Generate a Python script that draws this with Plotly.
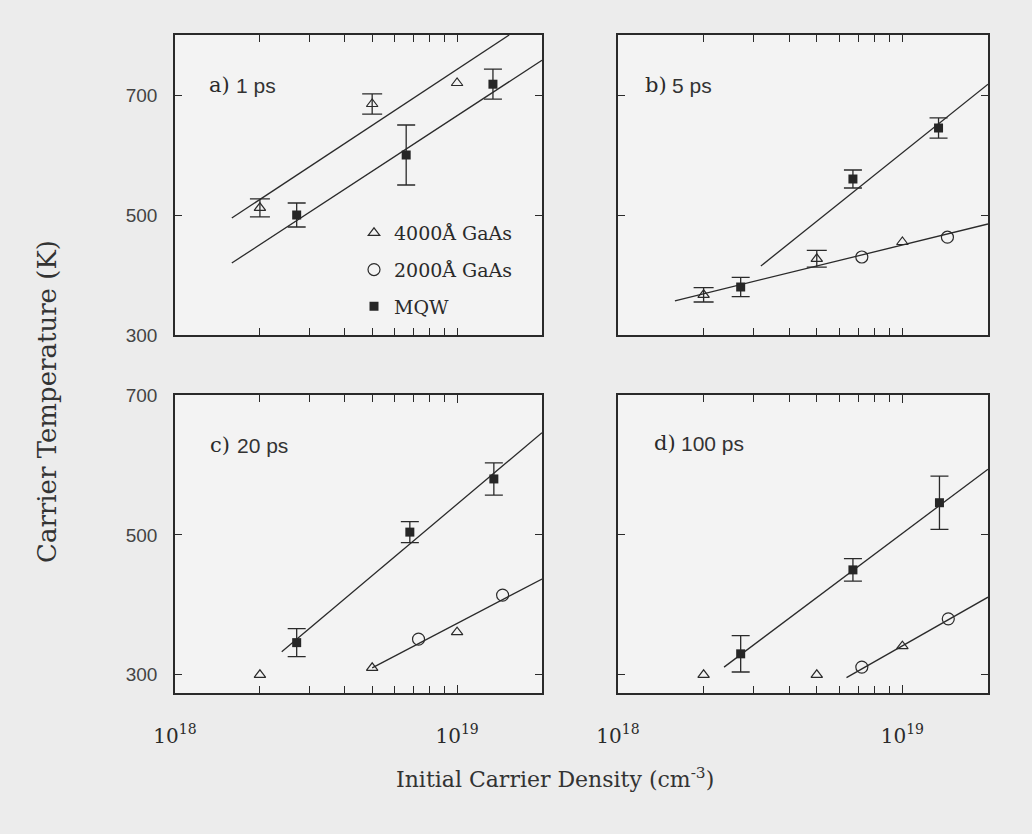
import plotly.graph_objects as go

W, H = 1032, 834

# ---------------- data ----------------
panels = ["a", "b", "c", "d"]
panel_time = ["1 ps", "5 ps", "20 ps", "100 ps"]

# 4000 A GaAs (triangles)
tri_x = {
    "a": [2e18, 5e18, 1e19],
    "b": [2e18, 5e18, 1e19],
    "c": [2e18, 5e18, 1e19],
    "d": [2e18, 5e18, 1e19],
}
tri_y = {
    "a": [512, 685, 720],
    "b": [367, 427, 455],
    "c": [300, 310, 361],
    "d": [300, 300, 341],
}
tri_err = {
    "a": [15, 17, 0],
    "b": [12, 14, 0],
    "c": [0, 0, 0],
    "d": [0, 0, 0],
}

# 2000 A GaAs (circles)
circ_x = {
    "a": [],
    "b": [7.2e18, 1.44e19],
    "c": [7.3e18, 1.45e19],
    "d": [7.2e18, 1.45e19],
}
circ_y = {
    "a": [],
    "b": [430, 463],
    "c": [351, 414],
    "d": [311, 380],
}

# MQW (filled squares)
mqw_x = {
    "a": [2.7e18, 6.6e18, 1.34e19],
    "b": [2.7e18, 6.7e18, 1.34e19],
    "c": [2.7e18, 6.8e18, 1.35e19],
    "d": [2.7e18, 6.7e18, 1.35e19],
}
mqw_y = {
    "a": [500, 600, 718],
    "b": [380, 560, 645],
    "c": [346, 504, 580],
    "d": [330, 450, 546],
}
mqw_err = {
    "a": [20, 50, 25],
    "b": [16, 15, 17],
    "c": [20, 15, 23],
    "d": [26, 16, 38],
}

# fitted lines (end points)
fit_lines = {
    "a": [([1.59e18, 1.53e19], [495, 800]), ([1.59e18, 2e19], [420, 758])],
    "b": [([1.585e18, 2e19], [357, 485]), ([3.18e18, 2e19], [415, 718])],
    "c": [([2.39e18, 2e19], [333, 646]), ([5e18, 2e19], [310, 437])],
    "d": [([2.36e18, 2e19], [311, 594]), ([6.36e18, 2e19], [296, 411])],
}

x_major_vals = [1e18, 1e19]
x_major_text = ["10<sup>18</sup>", "10<sup>19</sup>"]
x_minor_vals = [2e18, 3e18, 4e18, 5e18, 6e18, 7e18, 8e18, 9e18, 2e19]
y_tickvals = [300, 500, 700]
y_ticktext = ["300", "500", "700"]
y_range_top = [300, 800]
y_range_bottom = [274, 700]

legend_names = ["4000Å GaAs", "2000Å GaAs", "MQW"]

# ---------------- style ----------------
INK = "#2a2a2a"
SERIF = "DejaVu Serif"
SANS = "Liberation Sans"

def px_x(p):
    return p / W

def px_y(p):
    return 1 - p / H

# panel boxes (pixels): left, right, top, bottom
boxes = {
    "a": (175, 542, 35, 335),
    "b": (618, 988, 35, 335),
    "c": (175, 542, 395, 693),
    "d": (618, 988, 395, 693),
}

fig = go.Figure()
axis_ids = {"a": ("x", "y"), "b": ("x2", "y2"), "c": ("x3", "y3"), "d": ("x4", "y4")}

for i, p in enumerate(panels):
    xa, ya = axis_ids[p]
    for lx, ly in fit_lines[p]:
        fig.add_trace(go.Scatter(x=lx, y=ly, mode="lines", xaxis=xa, yaxis=ya,
                                 line=dict(color=INK, width=1.3), showlegend=False,
                                 hoverinfo="skip"))
    for xs, ys, es, w in ((tri_x[p], tri_y[p], tri_err[p], 10), (mqw_x[p], mqw_y[p], mqw_err[p], 9)):
        ex = [x for x, e in zip(xs, es) if e > 0]
        ey = [y for y, e in zip(ys, es) if e > 0]
        ee = [e for e in es if e > 0]
        if ex:
            fig.add_trace(go.Scatter(x=ex, y=ey, mode="markers", xaxis=xa, yaxis=ya,
                                     marker=dict(size=2, color="rgba(0,0,0,0)"),
                                     error_y=dict(type="data", array=ee, visible=True,
                                                  color=INK, thickness=1.3, width=w),
                                     showlegend=False, hoverinfo="skip"))
    show = (p == "b")
    fig.add_trace(go.Scatter(x=tri_x[p], y=tri_y[p], mode="markers", xaxis=xa, yaxis=ya,
                             name=legend_names[0], legendgroup="g1", showlegend=show,
                             marker=dict(symbol="triangle-up-open", size=10,
                                         color=INK, line=dict(width=1.2, color=INK))))
    if circ_x[p]:
        fig.add_trace(go.Scatter(x=circ_x[p], y=circ_y[p], mode="markers", xaxis=xa, yaxis=ya,
                                 name=legend_names[1], legendgroup="g2", showlegend=show,
                                 marker=dict(symbol="circle-open", size=12,
                                             color=INK, line=dict(width=1.2, color=INK))))
    fig.add_trace(go.Scatter(x=mqw_x[p], y=mqw_y[p], mode="markers", xaxis=xa, yaxis=ya,
                             name=legend_names[2], legendgroup="g3", showlegend=show,
                             marker=dict(symbol="square", size=9, color="#262626",
                                         line=dict(width=0))))

layout = dict(
    width=W, height=H,
    margin=dict(l=0, r=0, t=0, b=0, autoexpand=False),
    paper_bgcolor="#ececec",
    plot_bgcolor="#f3f3f3",
    showlegend=True,
    legend=dict(x=px_x(354), y=px_y(214), xanchor="left", yanchor="top",
                bgcolor="rgba(0,0,0,0)", font=dict(family=SERIF, size=19, color=INK),
                traceorder="grouped", tracegroupgap=9, itemwidth=30),
)

for p in panels:
    xa, ya = axis_ids[p]
    l, r, t, b = boxes[p]
    xkey = "xaxis" if xa == "x" else "xaxis" + xa[1:]
    ykey = "yaxis" if ya == "y" else "yaxis" + ya[1:]
    bottom_row = p in ("c", "d")
    left_col = p in ("a", "c")
    if bottom_row:
        xmaj, xmajt, xmin = x_major_vals, x_major_text, x_minor_vals
    else:
        xmaj, xmajt, xmin = [], [], x_major_vals + x_minor_vals
    if left_col:
        ymaj, ymajt, ymin = y_tickvals, y_ticktext, []
    else:
        ymaj, ymajt, ymin = [], [], y_tickvals
    layout[xkey] = dict(
        type="log", range=[18, 19.30103], domain=[px_x(l), px_x(r)],
        anchor=ya, showgrid=False, zeroline=False, automargin=False,
        showline=True, linecolor=INK, linewidth=1.5, mirror="allticks",
        ticks="inside", ticklen=8, tickwidth=1.2, tickcolor=INK,
        tickmode="array", tickvals=xmaj, ticktext=xmajt,
        minor=dict(tickmode="array", tickvals=xmin, ticks="inside",
                   ticklen=7, tickwidth=1.2, tickcolor=INK, showgrid=False),
        showticklabels=bottom_row, ticklabelstandoff=24,
        tickfont=dict(family=SERIF, size=20, color=INK),
    )
    layout[ykey] = dict(
        range=y_range_bottom if bottom_row else y_range_top,
        domain=[px_y(b), px_y(t)], anchor=xa,
        showgrid=False, zeroline=False, automargin=False,
        showline=True, linecolor=INK, linewidth=1.5, mirror="allticks",
        ticks="inside", ticklen=7, tickwidth=1.2, tickcolor=INK,
        tickmode="array", tickvals=ymaj, ticktext=ymajt,
        minor=dict(tickmode="array", tickvals=ymin, ticks="inside",
                   ticklen=7, tickwidth=1.2, tickcolor=INK, showgrid=False),
        showticklabels=left_col, ticklabelstandoff=12,
        tickfont=dict(family=SANS, size=19, color="#444"),
    )

fig.update_layout(**layout)

# panel labels
label_pos = {"a": (207, 85), "b": (643, 85), "c": (208, 445), "d": (652, 443)}
for p, t in zip(panels, panel_time):
    lx, ly = label_pos[p]
    fig.add_annotation(x=px_x(lx), y=px_y(ly), xref="paper", yref="paper",
                       text=p + ")", showarrow=False, xanchor="left", yanchor="middle",
                       font=dict(family=SERIF, size=21, color=INK))
    fig.add_annotation(x=px_x(lx + 27), y=px_y(ly), xref="paper", yref="paper",
                       text=t, showarrow=False, xanchor="left", yanchor="middle",
                       font=dict(family=SANS, size=21, color="#333"))

# axis titles
fig.add_annotation(x=px_x(555), y=px_y(778), xref="paper", yref="paper",
                   text="Initial Carrier Density (cm<sup>-3</sup>)", showarrow=False,
                   xanchor="center", yanchor="middle",
                   font=dict(family=SERIF, size=22, color="#333"))
fig.add_annotation(x=px_x(47), y=px_y(402), xref="paper", yref="paper",
                   text="Carrier Temperature (K)", showarrow=False, textangle=-90,
                   xanchor="center", yanchor="middle",
                   font=dict(family=SERIF, size=26, color="#333"))

fig.write_html("out.html")
